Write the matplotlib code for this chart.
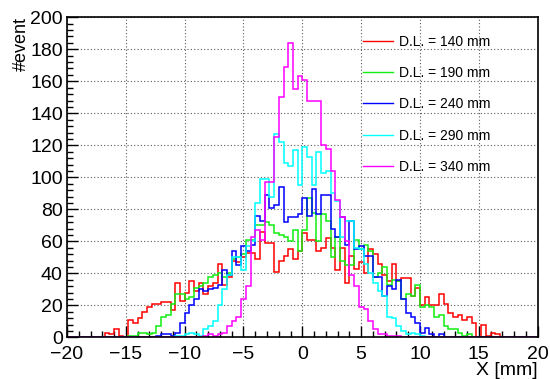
import numpy as np
import matplotlib
matplotlib.use("Agg")
import matplotlib.pyplot as plt
from matplotlib.lines import Line2D

# histogram binning: 100 bins of 0.4 mm from -20 to 20
x_min, x_max, n_bins = -20.0, 20.0, 100

# bin contents, listed from the first non-empty bin (its lower edge given)
red_start = -16.8
red_counts = [3, 2, 5, 1, 0, 11, 9, 12, 16, 19, 21, 21, 22, 22, 17, 34, 23, 28, 35, 29,
              34, 27, 32, 34, 46, 33, 38, 48, 47, 50, 53, 53, 49, 66, 59, 59, 41, 48, 51, 55,
              49, 54, 65, 61, 61, 54, 56, 62, 56, 42, 56, 34, 51, 43, 47, 40, 55, 52, 46, 39,
              35, 46, 35, 37, 37, 26, 31, 20, 25, 20, 20, 27, 21, 15, 13, 14, 11, 13, 9, 0,
              8, 1, 3, 2]

green_start = -14.8
green_counts = [1, 1, 3, 3, 2, 3, 7, 13, 14, 21, 27, 27, 24, 25, 31, 32, 34, 38, 39, 40,
                38, 40, 49, 50, 52, 61, 61, 70, 70, 72, 70, 65, 64, 63, 60, 67, 54, 67, 87, 78,
                60, 77, 73, 50, 63, 48, 45, 45, 61, 55, 58, 54, 38, 40, 44, 33, 36, 35, 24, 27,
                26, 33, 19, 20, 19, 13, 14, 7, 5, 5, 3, 1, 2]

blue_start = -12.4
blue_counts = [1, 2, 2, 1, 3, 9, 15, 20, 24, 30, 29, 30, 31, 33, 42, 39, 54, 45, 57, 54,
               58, 76, 73, 89, 81, 83, 94, 72, 75, 75, 77, 87, 76, 93, 77, 89, 89, 68, 63, 75,
               58, 73, 55, 57, 51, 51, 38, 38, 26, 32, 30, 36, 24, 15, 13, 9, 3, 6, 2, 0, 2]

cyan_start = -10.8
cyan_counts = [1, 1, 2, 3, 2, 1, 5, 7, 10, 20, 30, 39, 50, 50, 42, 57, 60, 84, 99, 99,
               88, 127, 122, 109, 107, 117, 95, 119, 113, 95, 116, 103, 104, 90, 85, 63, 73, 73, 56, 55,
               46, 40, 34, 29, 26, 13, 12, 7, 4, 2, 3, 2, 1]

magenta_start = -8.4
magenta_counts = [1, 2, 1, 2, 3, 7, 10, 13, 24, 32, 63, 67, 61, 97, 97, 125, 150, 169, 184, 155,
                  163, 161, 148, 148, 148, 120, 118, 104, 86, 75, 60, 39, 32, 19, 18, 10, 5, 2, 2, 1,
                  1, 1]

labels = ["D.L. = 140 mm", "D.L. = 190 mm", "D.L. = 240 mm", "D.L. = 290 mm", "D.L. = 340 mm"]
colors = ["#ff0000", "#11ee11", "#0000ff", "#00ffff", "#ff00ff"]

edges = np.linspace(x_min, x_max, n_bins + 1)


def full_hist(start, counts):
    vals = np.zeros(n_bins)
    i0 = int(round((start - x_min) / (edges[1] - edges[0])))
    vals[i0:i0 + len(counts)] = counts
    return vals


series = [(red_start, red_counts), (green_start, green_counts), (blue_start, blue_counts),
          (cyan_start, cyan_counts), (magenta_start, magenta_counts)]

plt.rcParams['font.family'] = ['Liberation Sans', 'DejaVu Sans']

fig = plt.figure(figsize=(5.5, 3.79), dpi=100)
ax = fig.add_axes([0.1218, 0.1095, 0.8558, 0.845])

handles = []
for (start, counts), c, lab in zip(series, colors, labels):
    ax.stairs(full_hist(start, counts), edges, color=c, lw=1.1, baseline=0)
    handles.append(Line2D([], [], color=c, lw=1.0))

ax.set_xlim(x_min, x_max)
ax.set_ylim(0, 200)
ax.set_xticks(np.arange(-20, 21, 5))
ax.set_xticks(np.arange(-20, 21, 1), minor=True)
ax.set_yticks(np.arange(0, 201, 20))
ax.set_yticks(np.arange(0, 201, 4), minor=True)
ax.grid(True, which='major', linestyle=(0, (1, 2)), color='0.35', lw=0.8)
ax.set_axisbelow(True)

ax.tick_params(which='both', direction='in', labelsize=14, top=False, right=False)
ax.tick_params(which='major', length=8, width=1)
ax.tick_params(which='minor', length=4, width=1)
ax.tick_params(axis='x', pad=6)
ax.tick_params(axis='y', pad=3)
for sp in ax.spines.values():
    sp.set_linewidth(1.2)

ax.set_xlabel("X [mm]", fontsize=14, loc='right')
ax.xaxis.set_label_coords(1.0, -0.075)
ax.set_ylabel("#event", fontsize=13, loc='top')
ax.yaxis.set_label_coords(-0.078, 1.0)

ax.legend(handles, labels, loc='upper left', bbox_to_anchor=(0.628, 0.945),
          frameon=False, fontsize=10, borderaxespad=0, borderpad=0,
          handlelength=2.16, handletextpad=0.45, labelspacing=1.24)

fig.savefig("out.png", dpi=100)
